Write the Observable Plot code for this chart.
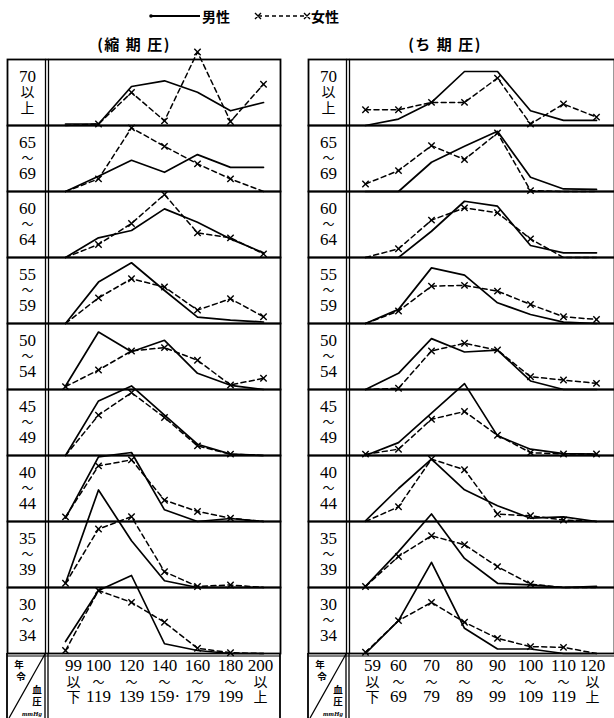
<!DOCTYPE html>
<html><head><meta charset="utf-8">
<script src="https://cdn.jsdelivr.net/npm/d3@7"></script>
<script src="https://cdn.jsdelivr.net/npm/@observablehq/plot@0.6"></script>
<style>
body{margin:0;background:#fff;}
#page{position:relative;width:614px;height:718px;overflow:hidden;background:#fff;font-family:'Noto Sans CJK JP',sans-serif;color:#000;}
.abs{position:absolute;}
.title{position:absolute;top:35px;font-size:15px;font-weight:bold;white-space:pre;transform:translateX(-50%);line-height:18px;letter-spacing:1.5px;}
</style></head><body><div id="page">
<svg class="abs" style="left:0;top:0" width="614" height="30">
  <line x1="151" y1="16" x2="200" y2="16" stroke="#000" stroke-width="2"/>
  <circle cx="151" cy="16" r="1.8" fill="#000"/>
  <text x="202" y="21.5" font-size="14" font-weight="bold" font-family="Noto Sans CJK JP">男性</text>
  <line x1="258" y1="16" x2="307" y2="16" stroke="#000" stroke-width="1.6" stroke-dasharray="4,3"/>
  <path d="M255,13L261,19M261,13L255,19M304,13L310,19M310,13L304,19" stroke="#000" stroke-width="1.4"/>
  <text x="311" y="21.5" font-size="14" font-weight="bold" font-family="Noto Sans CJK JP">女性</text>
</svg>
<div class="title" style="left:134px">(縮 期 圧)</div>
<div class="title" style="left:445px">(ち 期 圧)</div>
<div id="left" class="abs" style="left:0;top:40px"></div>
<div id="right" class="abs" style="left:306px;top:40px"></div>
<svg class="abs" style="left:0;top:0;pointer-events:none" width="614" height="718">
  <g stroke="#000" fill="none">
    <line x1="7" y1="653" x2="7" y2="718" stroke-width="1.8"/>
    <line x1="45" y1="653" x2="45" y2="718" stroke-width="1.3"/>
    <line x1="48" y1="653" x2="48" y2="718" stroke-width="1.3"/>
    <line x1="280" y1="653" x2="280" y2="718" stroke-width="1.8"/>
    <line x1="7" y1="656" x2="280" y2="656" stroke-width="1.2"/>
    <line x1="45" y1="654" x2="9" y2="718" stroke-width="1.3"/>
    <line x1="308" y1="653" x2="308" y2="718" stroke-width="1.8"/>
    <line x1="346" y1="653" x2="346" y2="718" stroke-width="1.3"/>
    <line x1="349" y1="653" x2="349" y2="718" stroke-width="1.3"/>
    <line x1="308" y1="656" x2="614" y2="656" stroke-width="1.2"/>
    <line x1="346" y1="654" x2="310" y2="718" stroke-width="1.3"/>
  </g>
  <g font-family="Noto Sans CJK JP" font-weight="bold" fill="#000" stroke="none" text-anchor="middle">
    <text x="19" y="668" font-size="9.5">年</text>
    <text x="21" y="680" font-size="9.5">令</text>
    <text x="37" y="692.5" font-size="9.5">血</text>
    <text x="37" y="705" font-size="9.5">圧</text>
    <text x="32" y="715.5" font-size="7" font-style="italic" font-family="Liberation Serif">mmHg</text>
    <text x="320" y="668" font-size="9.5">年</text>
    <text x="322" y="680" font-size="9.5">令</text>
    <text x="338" y="692.5" font-size="9.5">血</text>
    <text x="338" y="705" font-size="9.5">圧</text>
    <text x="333" y="715.5" font-size="7" font-style="italic" font-family="Liberation Serif">mmHg</text>
  </g>
</svg>
</div>
<script>
// Age groups (rows, top to bottom)
const ageKeys = ["70+", "65-69", "60-64", "55-59", "50-54", "45-49", "40-44", "35-39", "30-34"];
const ageLabels = ["70\n以\n上", "65\n〜\n69", "60\n〜\n64", "55\n〜\n59", "50\n〜\n54", "45\n〜\n49", "40\n〜\n44", "35\n〜\n39", "30\n〜\n34"];

// Systolic blood pressure classes (mmHg)
const sysCats = ["99以下", "100-119", "120-139", "140-159", "160-179", "180-199", "200以上"];
const sysTicks = ["99\n以\n下", "100\n〜\n119", "120\n〜\n139", "140\n〜\n159·", "160\n〜\n179", "180\n〜\n199", "200\n以\n上"];

// Diastolic blood pressure classes (mmHg)
const diaCats = ["59以下", "60-69", "70-79", "80-89", "90-99", "100-109", "110-119", "120以上"];
const diaTicks = ["59\n以\n下", "60\n〜\n69", "70\n〜\n79", "80\n〜\n89", "90\n〜\n99", "100\n〜\n109", "110\n〜\n119", "120\n以\n上"];

// Percent distribution, systolic, male (rows = ageKeys)
const sysMale = [
  [1, 1, 26, 29.8, 22.2, 9.8, 15.3],
  [0, 10.1, 20.8, 12.8, 24.6, 16.1, 16.1],
  [0, 13.1, 18, 32.4, 23.5, 12.4, 3.1],
  [0, 27.6, 40.5, 22, 4.3, 2.3, 1],
  [2.3, 38.3, 25.2, 32.8, 10.8, 2.8, 0],
  [0, 36.4, 46.4, 26.9, 7.5, 0.9, 0],
  [2.2, 43.1, 46, 7.8, 0, 2, 0],
  [2.8, 65, 31.2, 4.5, 0, 0, 0],
  [8, 42, 52, 6.5, 2, 0, 0]
];
// Percent distribution, systolic, female
const sysFemale = [
  [0, 1, 22, 3.1, 49, 2.7, 27.5],
  [0, 8.4, 42.4, 30.1, 18.4, 8.4, 0],
  [0, 8.7, 22.7, 42, 16.4, 13.1, 2.4],
  [0, 17.1, 29.8, 24.3, 8.9, 16.5, 4.5],
  [1.9, 13, 25.7, 27.9, 19.5, 3, 7.5],
  [0, 26.9, 41.9, 25.3, 6.4, 0.9, 0],
  [3.1, 37.1, 41.1, 14.2, 6.7, 2.2, 0],
  [2.8, 39, 47.2, 10.5, 0.7, 1.7, 0],
  [2, 42, 34.1, 20.8, 3.5, 0.5, 0]
];
// Percent distribution, diastolic, male
const diaMale = [
  [0, 4.3, 15.4, 36, 36, 9.8, 3.4, 3.4],
  [0, 0, 19.5, 30.1, 40.1, 9.5, 1.7, 1.4],
  [0, 0, 17.5, 37.5, 34.2, 8, 3.1, 3.1],
  [0, 9.4, 37.1, 32.3, 13.8, 6, 0.9, 0],
  [0, 10.8, 33.9, 25, 26.3, 5.7, 0, 0],
  [0, 8.6, 28.2, 47.9, 13.1, 4.2, 1.3, 0.9],
  [0.5, 22, 41.6, 21.1, 10.5, 2.2, 3.1, 0],
  [0.7, 23.9, 49, 19.4, 2.8, 1.7, 0, 0.7],
  [0, 21.9, 60.8, 16.8, 3, 3, 0, 0]
];
// Percent distribution, diastolic, female
const diaFemale = [
  [10.5, 10.5, 15.4, 15.4, 31.6, 1, 14.3, 5.6],
  [5, 13.9, 30.6, 21.3, 39, 0.6, 0, 0],
  [0, 5.8, 24.9, 33.1, 29.8, 12.4, 0, 0],
  [0, 8.3, 24.9, 25.4, 21.6, 12.7, 4.5, 2.7],
  [0, 0.8, 25.7, 30.8, 26.3, 8.5, 6.3, 4.1],
  [0.9, 4.2, 24.2, 29.3, 13.5, 1.9, 1, 1],
  [0, 9.8, 41.6, 34.5, 4.9, 3.8, 1, 0],
  [0.7, 20.7, 34.5, 28.5, 13.9, 2.3, 0, 0],
  [0.8, 21.9, 34.1, 20.8, 10.1, 4.6, 4.1, 0]
];

const FONT = "'Liberation Serif','Noto Sans CJK JP',serif";

function toRows(cats, values, sex) {
  return ageKeys.flatMap((age, i) => cats.map((c, j) => ({age, cat: c, value: values[i][j], sex})));
}

// make CJK lines of multi-line labels smaller, keeping line positions in pixels
function shrinkCJK(svg, size, waveSize) {
  d3.select(svg).selectAll("text").each(function() {
    const tspans = this.querySelectorAll("tspan");
    if (!tspans.length) return;
    const fs = parseFloat(getComputedStyle(this).fontSize);
    if (!isFinite(fs)) return;
    tspans.forEach(t => {
      for (const attr of ["y", "dy"]) {
        const v = t.getAttribute(attr);
        if (v && v.endsWith("em")) t.setAttribute(attr, parseFloat(v) * fs);
      }
      if (t.textContent.trim() === "〜") t.setAttribute("font-size", waveSize);
      else if (/[\u3000-\u9fff]/.test(t.textContent)) t.setAttribute("font-size", size);
    });
  });
}

function panel({cats, ticks, male, female, width, marginLeft, marginRight, padding, align}) {
  const m = toRows(cats, male, "男性");
  const f = toRows(cats, female, "女性");
  const tick = new Map(cats.map((c, i) => [c, ticks[i]]));
  return Plot.plot({
    width, height: 678,
    marginTop: 18, marginBottom: 65, marginLeft, marginRight,
    style: {background: "transparent", overflow: "visible", fontFamily: FONT, fontSize: "16px", color: "black"},
    x: {type: "point", domain: cats, padding, align, label: null},
    y: {domain: [0, 44], axis: null},
    fy: {domain: ageKeys, padding: 0, axis: null, label: null},
    marks: [
      Plot.frame({insetLeft: -41, stroke: "black", strokeWidth: 1.8}),
      Plot.frame({anchor: "left", insetLeft: -3, stroke: "black", strokeWidth: 1.3}),
      Plot.frame({anchor: "left", stroke: "black", strokeWidth: 1.3}),
      Plot.text(ageKeys, {fy: d => d, text: (d, i) => ageLabels[i], frameAnchor: "left", dx: -21,
        textAnchor: "middle", lineAnchor: "middle", lineHeight: 0.9, fontSize: 17}),
      Plot.line(f, {fy: "age", x: "cat", y: "value", stroke: "black", strokeWidth: 1.5, strokeDasharray: "5,3.5"}),
      Plot.dot(f.filter(d => d.value > 0), {fy: "age", x: "cat", y: "value", symbol: "times", r: 3, stroke: "black", strokeWidth: 1.4}),
      Plot.line(m, {fy: "age", x: "cat", y: "value", stroke: "black", strokeWidth: 1.7}),
      Plot.axisX({anchor: "bottom", tickSize: 0, tickPadding: 7, tickFormat: d => tick.get(d),
        fontSize: 17, lineHeight: 0.91, label: null})
    ]
  });
}

function finish(svg, firstShift, lastShift) {
  shrinkCJK(svg, 14, 12);
  const labels = d3.select(svg).selectAll('g[aria-label="x-axis tick label"] text').nodes();
  if (labels.length) {
    const a = labels[0], b = labels[labels.length - 1];
    a.setAttribute("transform", (a.getAttribute("transform") || "") + ` translate(${firstShift},0)`);
    b.setAttribute("transform", (b.getAttribute("transform") || "") + ` translate(${lastShift},0)`);
  }
}

const leftSvg = panel({
  cats: sysCats, ticks: sysTicks, male: sysMale, female: sysFemale,
  width: 282, marginLeft: 48, marginRight: 2, padding: 0.46, align: 0.5
});
document.getElementById("left").append(leftSvg);
finish(leftSvg, 8, -3);

const rightSvg = panel({
  cats: diaCats, ticks: diaTicks, male: diaMale, female: diaFemale,
  width: 308, marginLeft: 43, marginRight: 0, padding: 0.48, align: 0.47
});
document.getElementById("right").append(rightSvg);
finish(rightSvg, 7, -4);
</script>
</body></html>
